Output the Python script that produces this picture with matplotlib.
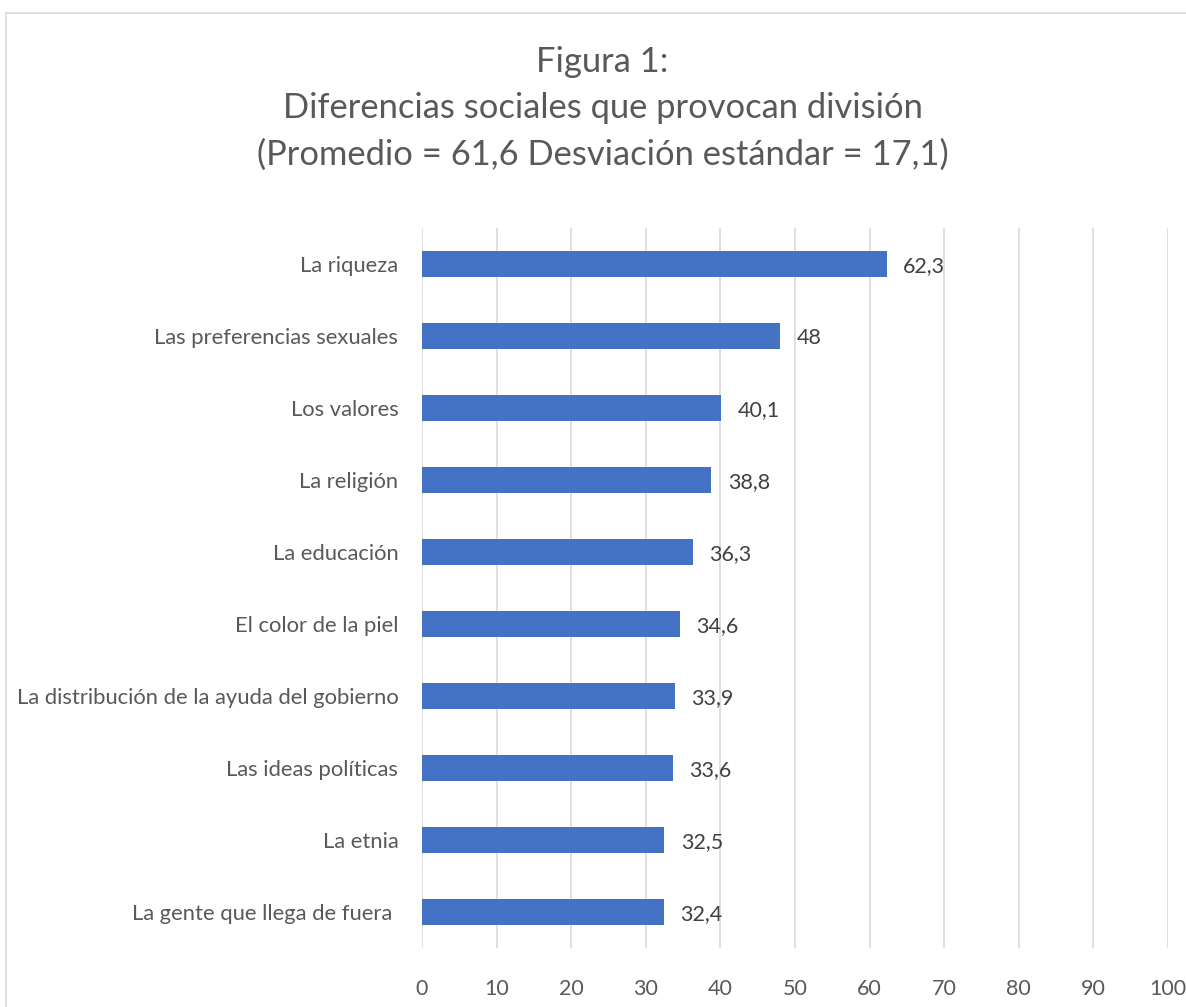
import numpy as np
import matplotlib
matplotlib.use("Agg")
import matplotlib.pyplot as plt
from matplotlib.patches import Rectangle

# data, top to bottom as shown
categorias = ["La riqueza", "Las preferencias sexuales", "Los valores", "La religión",
              "La educación", "El color de la piel",
              "La distribución de la ayuda del gobierno", "Las ideas políticas",
              "La etnia", "La gente que llega de fuera "]
valores = [62.3, 48, 40.1, 38.8, 36.3, 34.6, 33.9, 33.6, 32.5, 32.4]
etiquetas = ["62,3", "48", "40,1", "38,8", "36,3", "34,6", "33,9", "33,6", "32,5", "32,4"]
xticks = list(range(0, 101, 10))

plt.rcParams['font.family'] = ['Lato', 'DejaVu Sans']

fig = plt.figure(figsize=(11.86, 10.07), dpi=100)
ax = fig.add_axes([0.3558, 0.0586, 0.629, 0.715])

y = np.arange(len(categorias))
ax.barh(y, valores, height=0.36, color='#4472C4', zorder=3)
for yi, v, lab in zip(y, valores, etiquetas):
    ax.text(v + 2.2, yi + 0.03, lab, va='center', ha='left', fontsize=15.5, color='#404040')

ax.set_ylim(len(categorias) - 0.5, -0.5)
ax.set_xlim(0, 100)
ax.set_yticks(y)
ax.set_yticklabels(categorias, fontsize=15.8, color='#595959')
ax.set_xticks(xticks)
ax.set_xticklabels([str(t) for t in xticks], fontsize=15.5, color='#595959')
ax.tick_params(axis='y', length=0, pad=17)
ax.tick_params(axis='x', length=0, pad=22)
ax.grid(axis='x', color='#D9D9D9', linewidth=1.2, zorder=0)
for s in ax.spines.values():
    s.set_visible(False)

fig.text(0.508, 0.954, "Figura 1:\nDiferencias sociales que provocan división\n(Promedio = 61,6 Desviación estándar = 17,1)",
         ha='center', va='top', fontsize=24.8, color='#595959', linespacing=1.54)

# chart border
fig.patches.append(Rectangle((6 / 1186, -0.05), 1.1, 1 - 13 / 1007 + 0.05, transform=fig.transFigure,
                             fill=False, edgecolor='#D9D9D9', linewidth=1.2))

fig.savefig("out.png", dpi=100, facecolor='white')
